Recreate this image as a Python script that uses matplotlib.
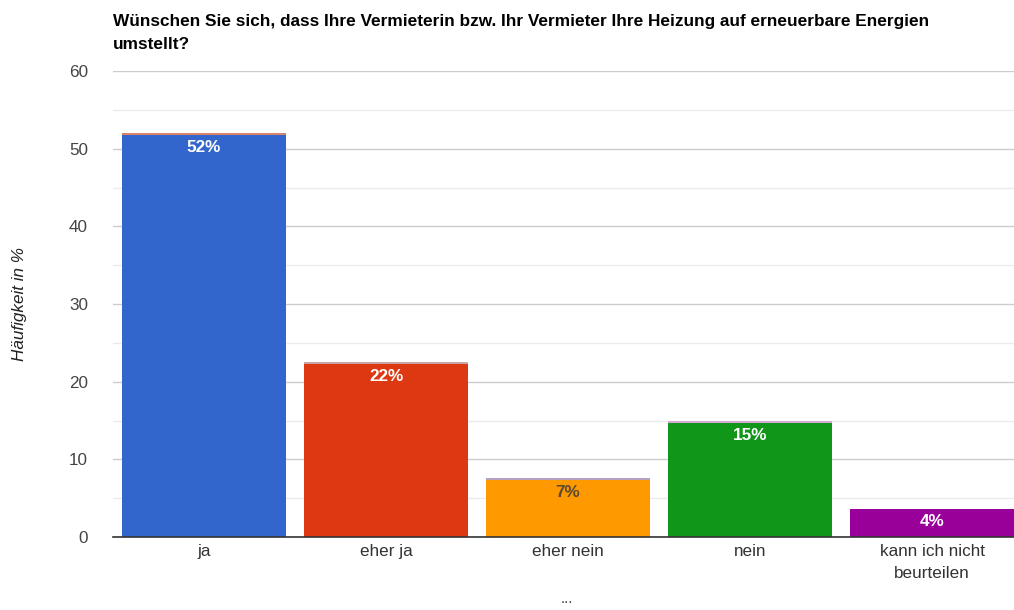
import matplotlib
matplotlib.use("Agg")
import matplotlib.pyplot as plt
from matplotlib.ticker import MultipleLocator

categories = ["ja", "eher ja", "eher nein", "nein", "kann ich nicht\nbeurteilen"]
values = [51.8, 22.3, 7.4, 14.7, 3.6]
top_values = [0.25, 0.2, 0.2, 0.2, 0.0]
labels = ["52%", "22%", "7%", "15%", "4%"]
colors = ["#3366cc", "#dc3912", "#ff9900", "#109618", "#990099"]
top_colors = ["#d9846a", "#c9a6a0", "#b4a0c0", "#d6a8d6", "#990099"]
label_colors = ["white", "white", "#5a4a30", "white", "white"]
title = ("Wünschen Sie sich, dass Ihre Vermieterin bzw. Ihr Vermieter Ihre Heizung auf erneuerbare Energien\n"
         "umstellt?")

plt.rcParams['font.family'] = ['Liberation Sans', 'DejaVu Sans']

fig = plt.figure(figsize=(10.14, 6.10), dpi=100)
ax = fig.add_axes([113/1014, 1 - 537/610, (1023 - 113)/1014, (537 - 71)/610])

x = list(range(len(categories)))
ax.bar(x, values, width=0.905, color=colors, zorder=3)
ax.bar(x, top_values, bottom=values, width=0.905, color=top_colors, zorder=3)

for xi, v, lab, lc in zip(x, values, labels, label_colors):
    ax.text(xi, v - 0.7, lab, ha="center", va="top", color=lc,
            fontsize=12.3, fontweight="bold", zorder=4)

ax.set_ylim(0, 60)
ax.set_xlim(-0.5, len(categories) - 0.5)
ax.yaxis.set_major_locator(MultipleLocator(10))
ax.yaxis.set_minor_locator(MultipleLocator(5))
ax.grid(axis="y", which="major", color="#cccccc", linewidth=1, zorder=0)
ax.grid(axis="y", which="minor", color="#ebebeb", linewidth=1, zorder=0)
for s in ["top", "right", "left"]:
    ax.spines[s].set_visible(False)
ax.spines["bottom"].set_color("#333333")
ax.spines["bottom"].set_linewidth(1.2)
ax.spines["bottom"].set_zorder(5)
ax.tick_params(axis="y", which="both", length=0, pad=18, labelsize=12.3, labelcolor="#444444")
ax.tick_params(axis="x", length=0, pad=5, labelsize=12.3, labelcolor="#333333")
ax.set_xticks(x)
ax.set_xticklabels(categories, linespacing=1.55)

ax.set_ylabel("Häufigkeit in %", fontsize=12.3, style="italic", color="#222222")
ax.yaxis.set_label_coords(-86/910, 0.5)

fig.text(113/1014, 1 - 14/610, title, ha="left", va="top", fontsize=12.4,
         fontweight="bold", color="#000000", linespacing=1.65)
fig.text(567/1014, 1 - 599/610, "...", ha="center", va="center", fontsize=11, color="#444444")

fig.savefig("out.png", dpi=100)
